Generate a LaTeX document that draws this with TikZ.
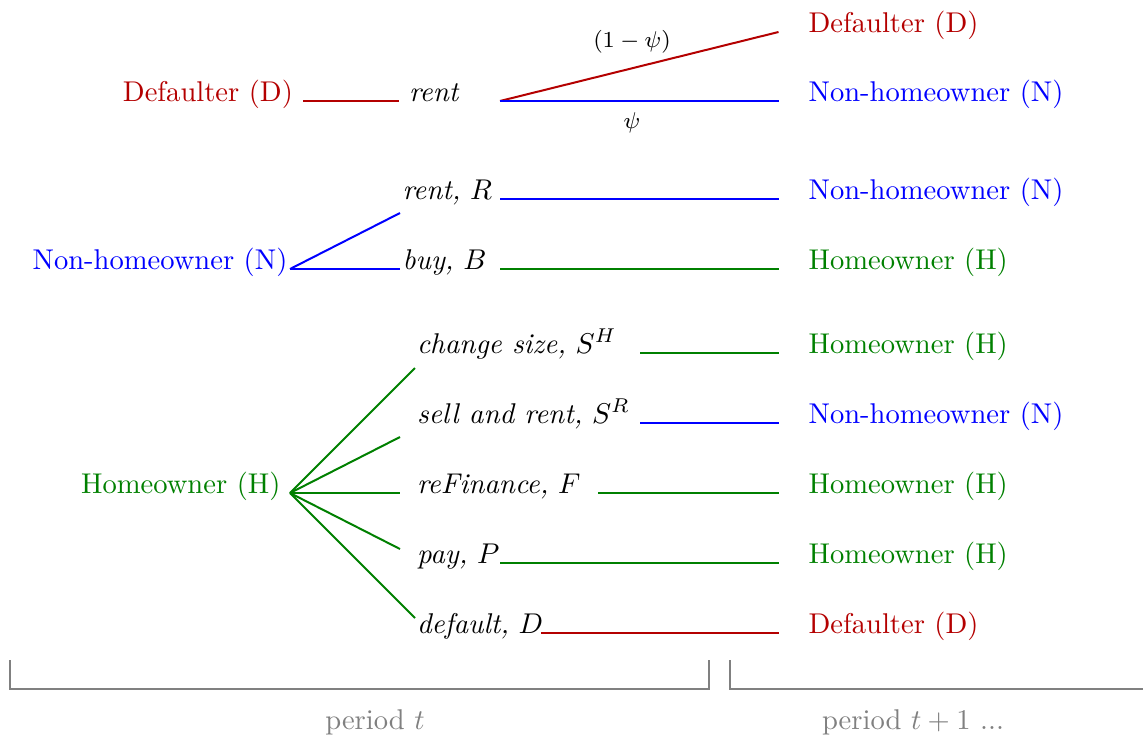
\documentclass[tikz,border=0pt]{standalone}
\usepackage{xcolor}
\usetikzlibrary{positioning}

\definecolor{dred}{RGB}{180,0,0}
\definecolor{hgreen}{RGB}{0,128,0}
\definecolor{nblue}{RGB}{0,0,255}
\definecolor{pgray}{RGB}{128,128,128}

\begin{document}
\begin{tikzpicture}[
        x=0.35pt, y=-0.35pt,
        lstate/.style={anchor=base east},
        rstate/.style={anchor=base west},
        action/.style={anchor=base west},
        prob/.style={font=\footnotesize},
        dline/.style={draw=dred, line width=0.7pt},
        nline/.style={draw=nblue, line width=0.7pt},
        hline/.style={draw=hgreen, line width=0.7pt},
        period/.style={draw=pgray, line width=0.8pt}
    ]
        \useasboundingbox (0,0) rectangle (1143,738);

        % states in period t
        \node[lstate, text=dred] (dL) at (303,101) {Defaulter (D)};
        \node[lstate, text=nblue] (nL) at (297.5,269) {Non-homeowner (N)};
        \node[lstate, text=hgreen] (hL) at (290.5,493) {Homeowner (H)};

        % choices
        \node[action] (aRent) at (399,101) {\textit{rent}};
        \node[action] (aRentR) at (392.5,199) {\textit{rent,} $R$};
        \node[action] (aBuy) at (392.5,269) {\textit{buy,} $B$};
        \node[action] (aSize) at (407,353) {\textit{change size,} $S^H$};
        \node[action] (aSell) at (407,423) {\textit{sell and rent,} $S^R$};
        \node[action] (aFin) at (407,493) {\textit{reFinance,} $F$};
        \node[action] (aPay) at (407,563) {\textit{pay,} $P$};
        \node[action] (aDef) at (407,633) {\textit{default,} $D$};

        % states in period t+1
        \node[rstate, text=dred] (rD1) at (798.5,32) {Defaulter (D)};
        \node[rstate, text=nblue] (rN1) at (798.5,101) {Non-homeowner (N)};
        \node[rstate, text=nblue] (rN2) at (798.5,199) {Non-homeowner (N)};
        \node[rstate, text=hgreen] (rH1) at (798.5,269) {Homeowner (H)};
        \node[rstate, text=hgreen] (rH2) at (798.5,353) {Homeowner (H)};
        \node[rstate, text=nblue] (rN3) at (798.5,423) {Non-homeowner (N)};
        \node[rstate, text=hgreen] (rH3) at (798.5,493) {Homeowner (H)};
        \node[rstate, text=hgreen] (rH4) at (798.5,563) {Homeowner (H)};
        \node[rstate, text=dred] (rD2) at (798.5,633) {Defaulter (D)};

        % where the lines start and where the fans end
        \coordinate (colA) at (500,0);
        \coordinate (colB) at (598,0);
        \coordinate (colC) at (640,0);
        \coordinate (colD) at (541,0);
        \coordinate (split) at (500,101);
        \coordinate (nFork) at (290,269);
        \coordinate (nEnd1) at (400,213);
        \coordinate (nEnd2) at (400,269);
        \coordinate (hFork) at (290,493);
        \coordinate (hEnd1) at (415,368);
        \coordinate (hEnd2) at (400,437);
        \coordinate (hEnd3) at (400,493);
        \coordinate (hEnd4) at (400,549);
        \coordinate (hEnd5) at (415,618);

        % defaulter
        \draw[dline] (dL.base east) -- (aRent.base west);
        \draw[dline] (split) -- ([xshift=-7pt]rD1.base west);
        \draw[nline] (split) -- ([xshift=-7pt]rN1.base west);
        \node[prob] (pUp) at (632,42) {$(1-\psi)$};
        \node[prob] (pDown) at (632,123) {$\psi$};

        % non-homeowner
        \draw[nline] (nFork) -- (nEnd1);
        \draw[nline] (nFork) -- (nEnd2);
        \draw[nline] (colA |- aRentR.base) -- ([xshift=-7pt]rN2.base west);
        \draw[hline] (colA |- aBuy.base) -- ([xshift=-7pt]rH1.base west);

        % homeowner
        \foreach \i in {1,...,5}
            \draw[hline] (hFork) -- (hEnd\i);
        \draw[hline] (colC |- aSize.base) -- ([xshift=-7pt]rH2.base west);
        \draw[nline] (colC |- aSell.base) -- ([xshift=-7pt]rN3.base west);
        \draw[hline] (colB |- aFin.base) -- ([xshift=-7pt]rH3.base west);
        \draw[hline] (colA |- aPay.base) -- ([xshift=-7pt]rH4.base west);
        \draw[dline] (colD |- aDef.base) -- ([xshift=-7pt]rD2.base west);

        % periods
        \draw[period] (10,660) -- (10,689) -- (709,689) -- (709,660);
        \draw[period] (730,660) -- (730,689) -- (1143,689);
        \node[text=pgray] (perT) at (375,722) {period $t$};
        \node[text=pgray] (perT1) at (913,722) {period $t+1$ ...};
\end{tikzpicture}
\end{document}
